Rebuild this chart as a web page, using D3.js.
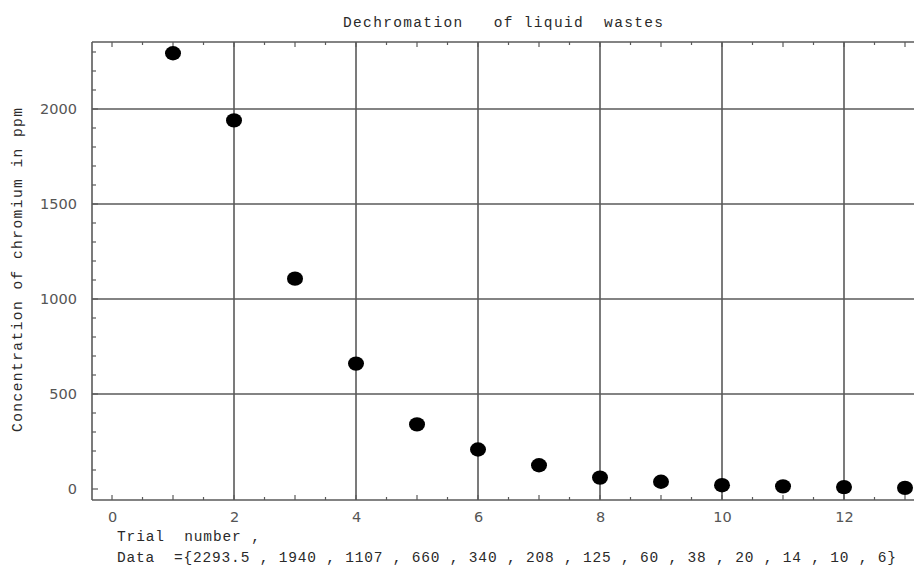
<!DOCTYPE html>
<html><head><meta charset="utf-8">
<script src="https://cdn.jsdelivr.net/npm/d3@7"></script>
<style>
html,body{margin:0;padding:0;background:#fff;}
svg{display:block;}
text{white-space:pre;}
</style></head>
<body>
<svg id="chart" width="914" height="569"></svg>
<script>
const trials = [1,2,3,4,5,6,7,8,9,10,11,12,13];
const concentration = [2293.5,1940,1107,660,340,208,125,60,38,20,14,10,6];
const xTickLabels = [0,2,4,6,8,10,12];
const yTickLabels = [0,500,1000,1500,2000];
const xGrid = [2,4,6,8,10,12];
const yGrid = [500,1000,1500,2000];
const titleText = "Dechromation   of liquid  wastes";
const yLabelText = "Concentration of chromium in ppm";
const xLabelText = "Trial  number ,";
const dataText = "Data  ={2293.5 , 1940 , 1107 , 660 , 340 , 208 , 125 , 60 , 38 , 20 , 14 , 10 , 6}";

const svg = d3.select("#chart");
const x = d3.scaleLinear().domain([-0.328, 13.2]).range([92, 917.2]);
const y = d3.scaleLinear().domain([-57.9, 2352.6]).range([500, 42]);
const gridColor = "#5a5a5a";
const mono = "'Liberation Mono','DejaVu Sans Mono',monospace";
const sans = "'DejaVu Sans',Verdana,sans-serif";

// grid
svg.append("g").selectAll("line").data(xGrid).join("line")
  .attr("x1", d => x(d)).attr("x2", d => x(d))
  .attr("y1", y.range()[1]).attr("y2", y.range()[0])
  .attr("stroke", gridColor).attr("stroke-width", 1.6);
svg.append("g").selectAll("line").data(yGrid).join("line")
  .attr("x1", x.range()[0]).attr("x2", x.range()[1])
  .attr("y1", d => y(d)).attr("y2", d => y(d))
  .attr("stroke", gridColor).attr("stroke-width", 1.6);

// frame
const fr = svg.append("g").attr("stroke", gridColor).attr("stroke-width", 1.6);
fr.append("line").attr("x1", x.range()[0]).attr("x2", x.range()[1]).attr("y1", y.range()[1]).attr("y2", y.range()[1]);
fr.append("line").attr("x1", x.range()[0]).attr("x2", x.range()[1]).attr("y1", y.range()[0]).attr("y2", y.range()[0]);
fr.append("line").attr("x1", x.range()[0]).attr("x2", x.range()[0]).attr("y1", y.range()[1]).attr("y2", y.range()[0]);

// minor ticks (inward)
const xMinor = d3.range(0, 13.01, 0.5);
const yMinor = d3.range(0, 2301, 100);
const tk = svg.append("g").attr("stroke", gridColor).attr("stroke-width", 1.2);
tk.selectAll(".xb").data(xMinor).join("line").attr("class","xb")
  .attr("x1", d => x(d)).attr("x2", d => x(d))
  .attr("y1", y.range()[0]).attr("y2", d => y.range()[0] - (d % 1 === 0 ? 5 : 3));
tk.selectAll(".xt").data(xMinor).join("line").attr("class","xt")
  .attr("x1", d => x(d)).attr("x2", d => x(d))
  .attr("y1", y.range()[1]).attr("y2", d => y.range()[1] + (d % 1 === 0 ? 5 : 3));
tk.selectAll(".yl").data(yMinor).join("line").attr("class","yl")
  .attr("x1", x.range()[0]).attr("x2", d => x.range()[0] + (d % 500 === 0 ? 6 : 4))
  .attr("y1", d => y(d)).attr("y2", d => y(d));

// axes labels via d3 axes
const xAxis = svg.append("g").attr("transform", `translate(0,${y.range()[0]})`)
  .call(d3.axisBottom(x).tickValues(xTickLabels).tickSize(0).tickPadding(12).tickFormat(d3.format("d")));
xAxis.select(".domain").remove();
xAxis.selectAll("text").attr("font-family", sans).attr("font-size", 14.5).attr("fill", "#555");

const yAxis = svg.append("g").attr("transform", `translate(${x.range()[0]},0)`)
  .call(d3.axisLeft(y).tickValues(yTickLabels).tickSize(0).tickPadding(15).tickFormat(d3.format("d")));
yAxis.select(".domain").remove();
yAxis.selectAll("text").attr("font-family", sans).attr("font-size", 14.5).attr("fill", "#555");

// points
svg.append("g").selectAll("ellipse").data(trials).join("ellipse")
  .attr("cx", (d) => x(d)).attr("cy", (d, i) => y(concentration[i]))
  .attr("rx", 8).attr("ry", 7.2).attr("fill", "#000");

// texts
const monoSize = 14.5;
svg.append("text").text(titleText).attr("x", 343).attr("y", 27)
  .attr("font-family", mono).attr("font-size", monoSize).attr("fill", "#2a2a2a")
  .attr("textLength", 320).attr("lengthAdjust", "spacing");
svg.append("text").text(yLabelText)
  .attr("transform", "translate(22,432) rotate(-90)")
  .attr("font-family", mono).attr("font-size", monoSize).attr("fill", "#2a2a2a")
  .attr("textLength", 324).attr("lengthAdjust", "spacing");
svg.append("text").text(xLabelText).attr("x", 117).attr("y", 541)
  .attr("font-family", mono).attr("font-size", monoSize).attr("fill", "#2a2a2a")
  .attr("textLength", 143).attr("lengthAdjust", "spacing");
svg.append("text").text(dataText).attr("x", 117).attr("y", 562)
  .attr("font-family", mono).attr("font-size", monoSize).attr("fill", "#2a2a2a")
  .attr("textLength", 779).attr("lengthAdjust", "spacing");
</script>
</body></html>
